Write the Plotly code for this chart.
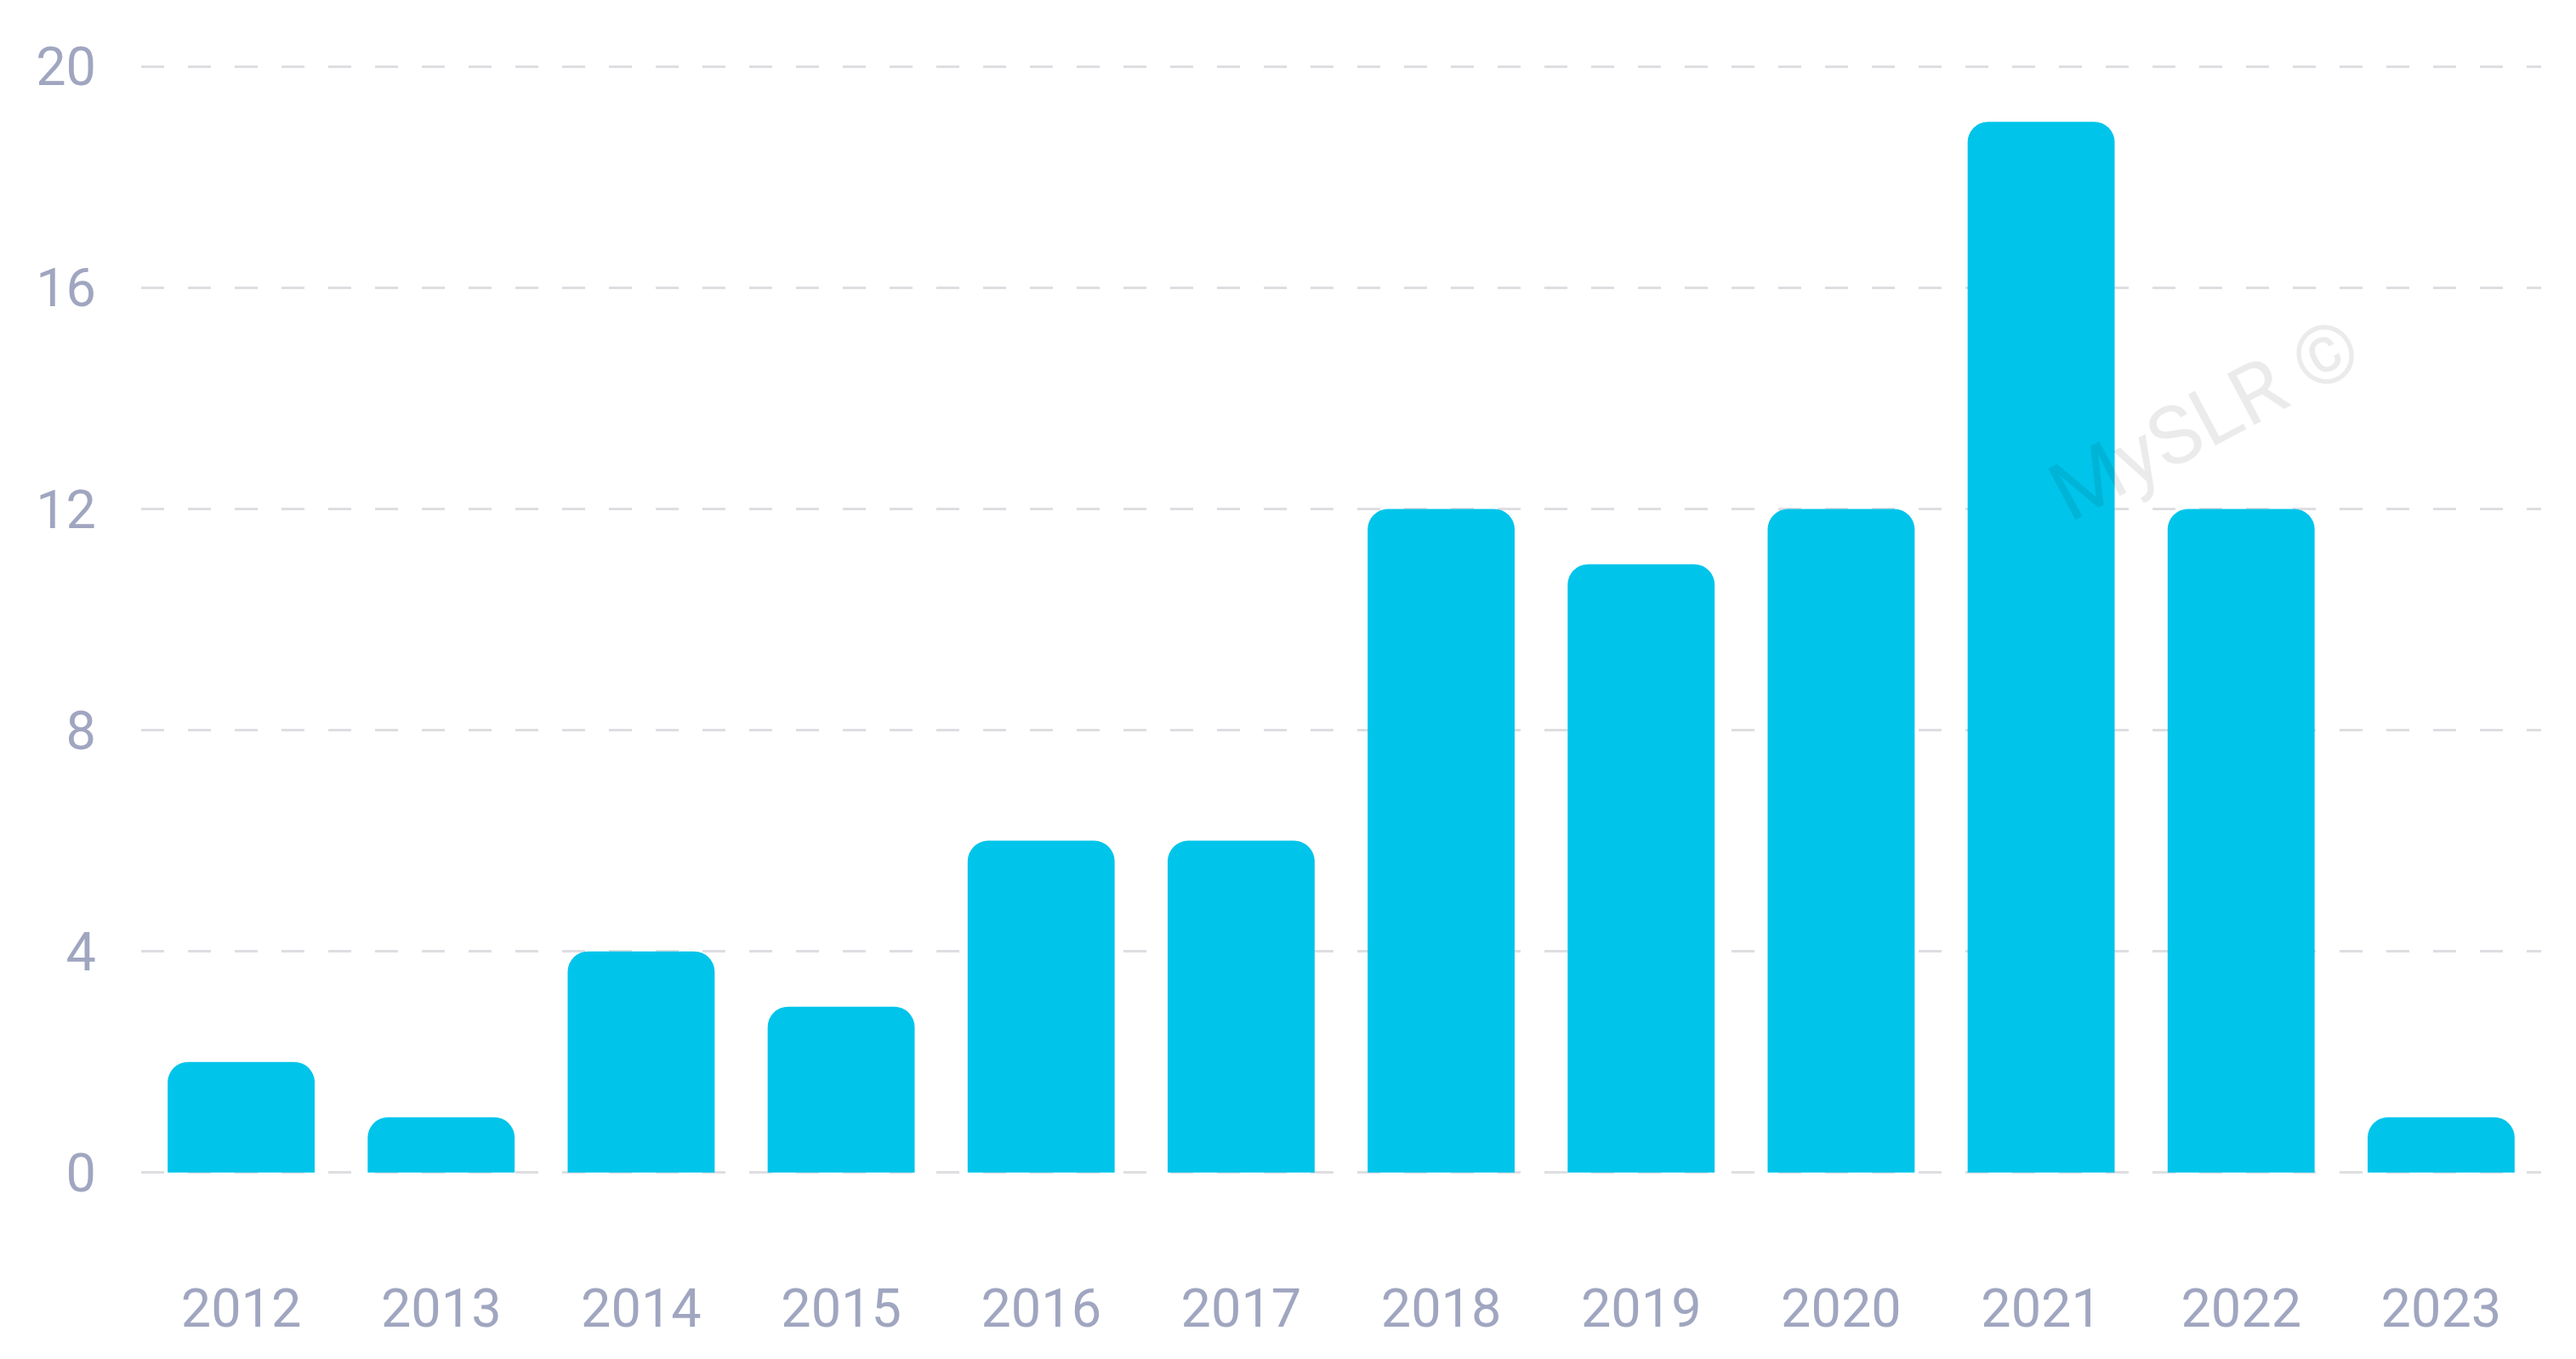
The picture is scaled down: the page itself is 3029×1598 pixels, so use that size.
import plotly.graph_objects as go

COLOR_BAR = "rgb(0, 196, 234)"
COLOR_FONT = "rgb(160, 166, 192)"
COLOR_GRID = "rgb(222, 222, 226)"
FONT_FAMILY = "Roboto"
SIZE_TEXT = 63

# Datos
years = ["2012", "2013", "2014", "2015", "2016", "2017",
         "2018", "2019", "2020", "2021", "2022", "2023"]
counts = [2, 1, 4, 3, 6, 6, 12, 11, 12, 19, 12, 1]
y_ticks = [0, 4, 8, 12, 16, 20]

fig = go.Figure()

fig.add_trace(go.Bar(
    x=years,
    y=counts,
    marker=dict(color=COLOR_BAR, line=dict(width=0)),
    hovertemplate="%{x}: %{y}<extra></extra>",
))

# Marca de agua
fig.add_annotation(
    x=0.86, y=0.68,
    xref="paper", yref="paper",
    xanchor="center", yanchor="middle",
    text="MySLR ©",
    showarrow=False,
    textangle=-28,
    font=dict(family=FONT_FAMILY, size=96, color="rgba(0,0,0,0.08)"),
)

fig.update_layout(
    width=3013,
    height=1582,
    template="plotly_white",
    paper_bgcolor="white",
    plot_bgcolor="white",
    bargap=0.265,
    barcornerradius=24,
    showlegend=False,
    margin=dict(t=67, l=158, r=33, b=208),
    font=dict(family=FONT_FAMILY, size=SIZE_TEXT, color=COLOR_FONT),
    xaxis=dict(
        showgrid=False,
        showline=False,
        zeroline=False,
        ticks="",
        ticklabelstandoff=114,
        tickfont=dict(size=SIZE_TEXT, color=COLOR_FONT),
    ),
    yaxis=dict(
        range=[-0.05, 20.05],
        tickvals=y_ticks,
        showgrid=True,
        gridcolor=COLOR_GRID,
        gridwidth=3,
        griddash="27px,28px",
        zeroline=False,
        showline=False,
        ticks="",
        ticklabelstandoff=52,
        tickfont=dict(size=SIZE_TEXT, color=COLOR_FONT),
    ),
)

fig.write_html("out.html")
